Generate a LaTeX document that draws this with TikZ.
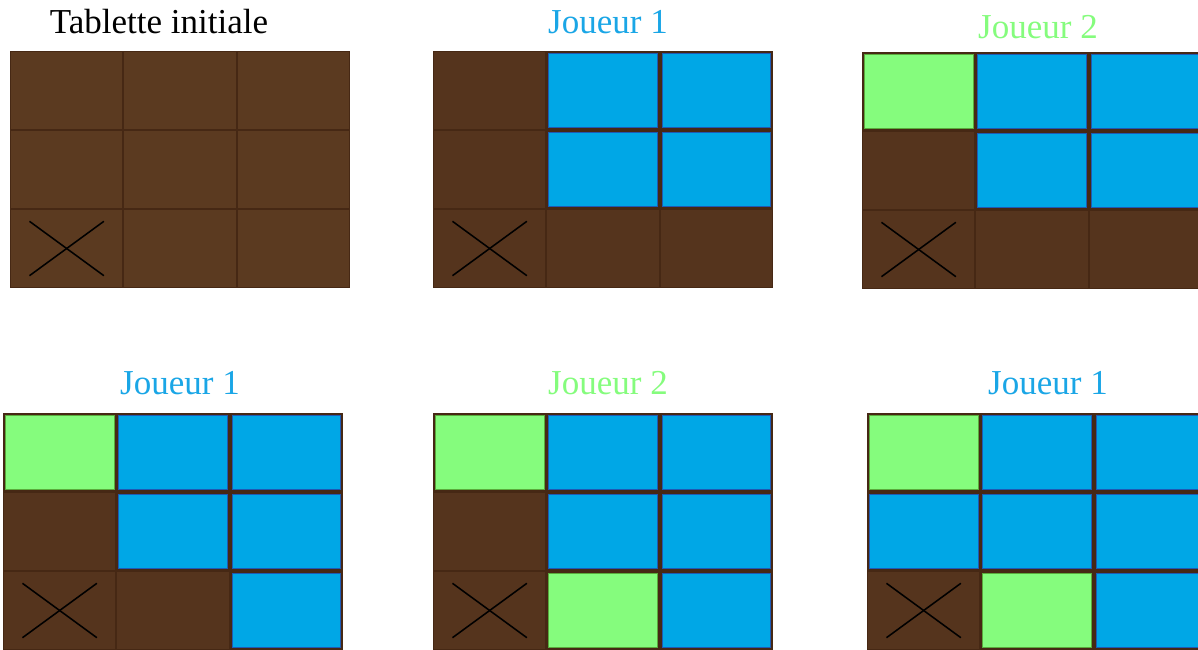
\documentclass[tikz,border=0pt]{standalone}
\usepackage{fontspec}
\setmainfont{Liberation Serif}
\usepackage{tikz}
\usetikzlibrary{positioning,calc}
\definecolor{tbBrun}    {RGB}{ 85, 52, 29}
\definecolor{tbBrunI}   {RGB}{ 91, 58, 32}
\definecolor{tbJoint}   {RGB}{ 70, 40, 20}
\definecolor{tbBleu}    {RGB}{  0,167,230}
\definecolor{tbBleuD}   {RGB}{ 30, 90,180}
\definecolor{tbVert}    {RGB}{133,252,125}
\definecolor{tbVertD}   {RGB}{ 90,170, 60}
\definecolor{tbTexteB}  {RGB}{ 26,166,230}
% une tablette 3x3 : #1 nom, #2 coin haut gauche, #3 les 9 cases ligne par ligne
\newcommand{\tablette}[3]{%
  \node[tab,anchor=north west] (#1) at (#2) {};
  \begin{scope}[shift={(#2)}]
    \foreach \k [count=\i from 0] in {#3} {
      \pgfmathtruncatemacro{\col}{mod(\i,3)}
      \pgfmathtruncatemacro{\row}{div(\i,3)}
      \node[\k] (#1-\row\col) at ({(\col+0.5)*2.8333},{-(\row+0.5)*1.975}) {};
    }
  \end{scope}
  \draw[croix] ([shift={(-0.93,0.68)}]#1-20.center) -- ([shift={(0.93,-0.68)}]#1-20.center);
  \draw[croix] ([shift={(-0.93,-0.68)}]#1-20.center) -- ([shift={(0.93,0.68)}]#1-20.center);
}

\begin{document}
\begin{tikzpicture}[
  titre/.style={font=\fontsize{24.9}{30}\selectfont,inner sep=0pt},
  tab/.style={fill=tbJoint,inner sep=0pt,minimum width=8.5cm,minimum height=5.925cm},
  brun/.style={fill=tbBrun,inner sep=0pt,minimum width=2.79cm,minimum height=1.93cm},
  brunI/.style={fill=tbBrunI,inner sep=0pt,minimum width=2.79cm,minimum height=1.93cm},
  bleu/.style={fill=tbBleu,draw=tbBleuD,line width=0.6pt,inner sep=0pt,
              minimum width=2.72cm,minimum height=1.86cm},
  vert/.style={fill=tbVert,draw=tbVertD,line width=0.6pt,inner sep=0pt,
              minimum width=2.72cm,minimum height=1.86cm},
  croix/.style={black,line width=1.1pt}
]
\useasboundingbox (0,0) rectangle (29.95,-16.25);
\clip (0,0) rectangle (29.95,-16.25);

\node[titre]                (T1) at (3.975,-0.55)  {Tablette initiale};
\node[titre,text=tbTexteB]  (T2) at (15.2,-0.55)   {Joueur 1};
\node[titre,text=tbVert]    (T3) at (25.95,-0.67)  {Joueur 2};
\node[titre,text=tbTexteB]  (T4) at (4.5,-9.575)   {Joueur 1};
\node[titre,text=tbVert]    (T5) at (15.2,-9.575)  {Joueur 2};
\node[titre,text=tbTexteB]  (T6) at (26.2,-9.575)  {Joueur 1};

\tablette{G1}{0.25,-1.275}{brunI,brunI,brunI,brunI,brunI,brunI,brunI,brunI,brunI}
\tablette{G2}{10.825,-1.275}{brun,bleu,bleu,brun,bleu,bleu,brun,brun,brun}
\tablette{G3}{21.55,-1.3}{vert,bleu,bleu,brun,bleu,bleu,brun,brun,brun}
\tablette{G4}{0.075,-10.325}{vert,bleu,bleu,brun,bleu,bleu,brun,brun,bleu}
\tablette{G5}{10.825,-10.325}{vert,bleu,bleu,brun,bleu,bleu,brun,vert,bleu}
\tablette{G6}{21.675,-10.325}{vert,bleu,bleu,bleu,bleu,bleu,brun,vert,bleu}
\end{tikzpicture}
\end{document}
